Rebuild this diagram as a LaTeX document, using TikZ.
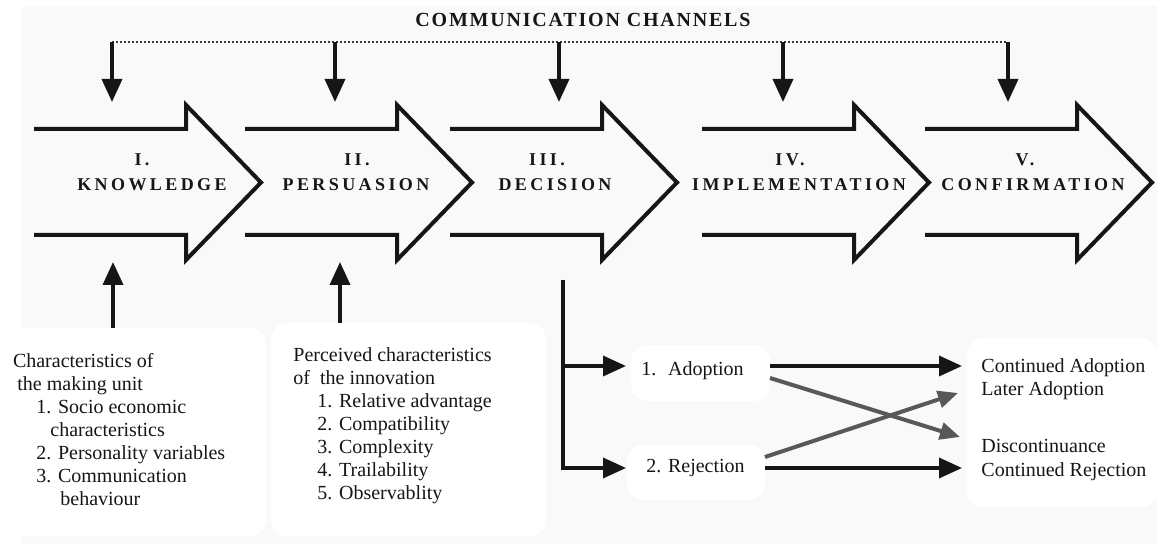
\documentclass[tikz,border=0pt]{standalone}
\usepackage{fontspec}
\setmainfont{Liberation Serif}
\newfontfamily\stagefont[LetterSpace=19]{Liberation Serif}
\newfontfamily\titlefont[LetterSpace=9]{Liberation Serif}
\usetikzlibrary{arrows.meta,calc,fit}
\definecolor{bggray}{RGB}{249,249,249}
\definecolor{ink}{RGB}{22,22,22}
\definecolor{crossgray}{RGB}{88,88,88}
\begin{document}
\begin{tikzpicture}[x=0.5pt,y=-0.5pt,
  txt/.style={font=\fontsize{10pt}{11.5pt}\selectfont, text=ink, inner sep=0pt, anchor=base west},
  stage/.style={font=\stagefont\bfseries\fontsize{9pt}{11pt}\selectfont, text=ink, inner sep=0pt, anchor=base},
  heading/.style={font=\titlefont\bfseries\fontsize{10pt}{12pt}\selectfont, text=ink, inner sep=0pt, anchor=base},
  panel/.style={fill=white, rounded corners=8pt, inner sep=0pt, outer sep=0pt},
  blockline/.style={draw=ink, line width=2pt, line join=miter},
  feed/.style={draw=ink, line width=1.8pt, -{Triangle[length=11.5pt,width=10pt]}},
  cross/.style={draw=crossgray, line width=2pt, -{Triangle[length=10pt,width=8.5pt]}},
  chan/.style={draw=ink!85, line width=0.8pt, dash pattern=on 1pt off 1pt}
]
\useasboundingbox (0,0) rectangle (1157,544);
\fill[white] (0,0) rectangle (1157,544);
\fill[bggray] (22,6) rectangle (1157,544);

% white panels under the texts
\node[panel, fit={(8,328) (266,536)}] (unitbox) {};
\node[panel, fit={(271,323) (546,536)}] (innovbox) {};
\node[panel, fit={(631,345) (770,401)}] (adopt) {};
\node[panel, fit={(627,445) (765,500)}] (reject) {};
\node[panel, fit={(967,338) (1157,507)}] (outc) {};

% communication channels
\node[heading] (chtitle) at (583,26.7) {COMMUNICATION CHANNELS};
\foreach \cx [count=\i] in {112,335,559,783,1008} {
  \coordinate (ch\i) at (\cx,42);
  \coordinate (in\i) at (\cx,102);
}
\draw[chan] (ch1) -- (ch5);
\foreach \i in {1,...,5} \draw[feed] (ch\i) -- (in\i);

% stage arrows
\foreach \s in {34,245,450,702,925}
  \draw[blockline] (\s,129) -- (\s+152,129) -- (\s+152,105) -- (\s+227,182.5)
        -- (\s+152,260) -- (\s+152,235) -- (\s,235);

\node[stage] (num1) at (142,166) {I.};
\node[stage] (name1) at (152,191) {KNOWLEDGE};
\node[stage] (num2) at (357,166) {II.};
\node[stage] (name2) at (356,191) {PERSUASION};
\node[stage] (num3) at (547,166) {III.};
\node[stage] (name3) at (555,191) {DECISION};
\node[stage] (num4) at (790,166) {IV.};
\node[stage] (name4) at (799,191) {IMPLEMENTATION};
\node[stage] (num5) at (1025,166) {V.};
\node[stage] (name5) at (1033,191) {CONFIRMATION};

% influences from below
\coordinate (kin) at (113,262);
\coordinate (pin) at (340,262);
\draw[feed] (unitbox.north -| kin) -- (kin);
\draw[feed] (innovbox.north -| pin) -- (pin);

\foreach \xx/\yy/\lbl [count=\i] in {
  12.6/368/Characteristics of,
  17/391/the making unit,
  36/414/1. Socio economic,
  50/437/characteristics,
  36/460/2. Personality variables,
  36/483/3. Communication,
  60/506/behaviour}
  \node[txt] (unit\i) at (\xx,\yy) {\lbl};

\foreach \xx/\yy/\lbl [count=\i] in {
  293/362/Perceived characteristics,
  293/385/of~ the innovation,
  317/408/1. Relative advantage,
  317/431/2. Compatibility,
  317/454/3. Complexity,
  317/477/4. Trailability,
  317/500/5. Observablity}
  \node[txt] (innov\i) at (\xx,\yy) {\lbl};

% decision outcomes
\node[txt] (adopttext) at (641,376) {1.~ Adoption};
\node[txt] (rejecttext) at (646,473) {2. Rejection};
\foreach \yy/\lbl [count=\i] in {
  373/Continued Adoption,
  396/Later Adoption,
  453/Discontinuance,
  477/Continued Rejection}
  \node[txt] (out\i) at (981,\yy) {\lbl};

\coordinate (dtop) at (563,280);
\coordinate (dbot) at (563,470);
\draw[draw=ink, line width=1.8pt] (dtop) -- (dbot);
\draw[feed] ($(adopt.west -| dtop)+(0,-7)$) -- ($(adopt.west)+(-5,-7)$);
\draw[feed] ($(reject.west -| dtop)+(0,-4.5)$) -- ($(reject.west)+(-1,-4.5)$);

\draw[feed] ($(adopt.east)+(0,-7)$) -- ($(outc.west)+(-5,-56.5)$);
\draw[feed] ($(reject.east)+(0,-4.5)$) -- ($(outc.west)+(-5,45.5)$);
\draw[cross] ($(adopt.east)+(0,5)$) -- ($(outc.west)+(-7,14.5)$);
\draw[cross] ($(reject.east)+(0,-15.5)$) -- ($(outc.west)+(-9,-29.5)$);
\end{tikzpicture}
\end{document}
